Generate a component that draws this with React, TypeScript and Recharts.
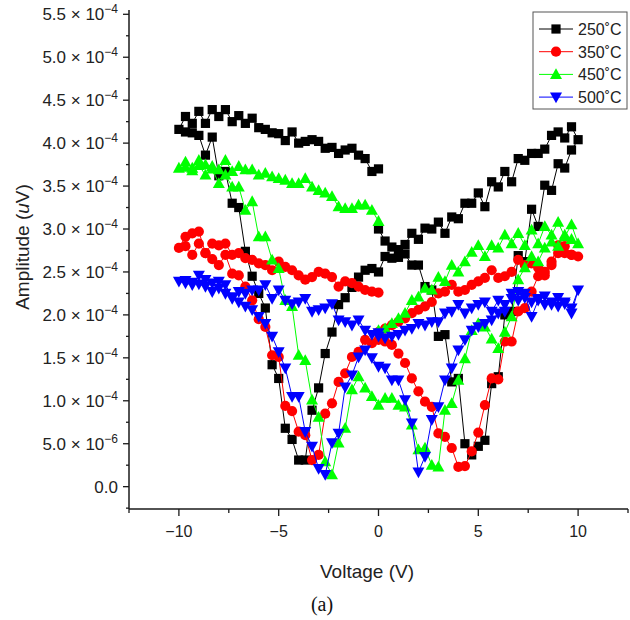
import React from 'react';
import { ScatterChart, Scatter, XAxis, YAxis } from 'recharts';

// Voltage sweep grid (V), magnitude; loops go 0 -> -10 -> 0 -> +10 -> 0
const voltGrid = [0, 0.33, 0.67, 1, 1.33, 1.67, 2, 2.33, 2.67, 3, 3.33, 3.67, 4, 4.33, 4.67, 5, 5.33, 5.67, 6, 6.33, 6.67, 7, 7.33, 7.67, 8, 8.33, 8.67, 9, 9.33, 9.67, 10];

// Amplitudes in units of 1e-4 uV, indexed by |V| on voltGrid
// 250 °C
const black_leftTop = [3.70, 3.67, 3.82, 3.86, 3.94, 3.92, 3.88, 3.95, 3.94, 4.02, 4.04, 4.02, 4.00, 4.13, 4.03, 4.11, 4.12, 4.16, 4.18, 4.29, 4.23, 4.32, 4.25, 4.39, 4.31, 4.39, 4.23, 4.37, 4.23, 4.31, 4.16];
const black_leftDip = [2.50, 2.54, 2.52, 2.44, 2.32, 2.20, 2.12, 1.80, 1.55, 1.15, 0.89, 0.31, 0.31, 0.55, 0.68, 1.26, 1.42, 2.08, 2.25, 2.45, 2.74, 3.25, 3.30, 3.67, 3.62, 4.07, 3.86, 4.09, 4.12, 4.13, 4.16];
const black_rightDip = [2.50, 2.68, 2.66, 2.67, 2.71, 2.58, 2.58, 2.33, 2.29, 1.75, 1.77, 1.22, 1.26, 0.50, 0.37, 0.47, 0.54, 1.20, 1.28, 2.00, 2.04, 2.69, 2.62, 3.23, 3.03, 3.51, 3.45, 3.76, 3.71, 3.92, 4.04];
const black_rightTop = [3.00, 2.86, 2.79, 2.76, 2.82, 2.95, 2.88, 3.01, 3.00, 3.08, 2.95, 3.14, 3.12, 3.30, 3.30, 3.42, 3.26, 3.55, 3.49, 3.67, 3.55, 3.82, 3.80, 3.88, 3.88, 3.93, 4.09, 4.13, 4.06, 4.19, 4.04];

// 350 °C
const red_leftTop = [2.26, 2.27, 2.29, 2.33, 2.37, 2.39, 2.33, 2.44, 2.48, 2.50, 2.44, 2.41, 2.46, 2.52, 2.56, 2.62, 2.52, 2.58, 2.60, 2.64, 2.66, 2.72, 2.70, 2.83, 2.81, 2.83, 2.72, 2.97, 2.95, 2.91, 2.78];
const red_leftDip = [1.71, 1.67, 1.71, 1.57, 1.51, 1.32, 1.22, 0.97, 0.85, 0.37, 0.31, 0.60, 0.64, 0.88, 0.94, 1.51, 1.53, 1.86, 1.95, 2.17, 2.33, 2.46, 2.48, 2.70, 2.58, 2.65, 2.72, 2.83, 2.70, 2.80, 2.78];
const red_rightDip = [1.71, 1.69, 1.65, 1.55, 1.44, 1.26, 1.11, 0.99, 0.93, 0.62, 0.58, 0.45, 0.23, 0.24, 0.41, 0.63, 0.95, 1.26, 1.25, 1.69, 1.69, 2.04, 2.08, 2.27, 2.45, 2.46, 2.58, 2.72, 2.72, 2.70, 2.68];
const red_rightTop = [1.80, 1.84, 1.88, 1.92, 1.96, 2.02, 2.06, 2.10, 2.15, 2.25, 2.27, 2.35, 2.27, 2.29, 2.35, 2.39, 2.43, 2.52, 2.43, 2.45, 2.50, 2.64, 2.58, 2.60, 2.55, 2.50, 2.62, 2.81, 2.80, 2.70, 2.68];

// 450 °C
const green_leftTop = [3.09, 3.22, 3.28, 3.28, 3.24, 3.24, 3.26, 3.38, 3.42, 3.45, 3.49, 3.59, 3.53, 3.53, 3.57, 3.59, 3.61, 3.65, 3.63, 3.69, 3.69, 3.73, 3.67, 3.80, 3.69, 3.73, 3.75, 3.80, 3.71, 3.78, 3.71];
const green_leftDip = [0.95, 1.05, 1.15, 1.28, 1.13, 0.68, 0.51, 0.14, 0.29, 0.81, 1.01, 1.47, 1.53, 2.10, 2.17, 2.54, 2.64, 2.91, 2.91, 3.32, 3.22, 3.49, 3.49, 3.63, 3.53, 3.70, 3.63, 3.74, 3.68, 3.72, 3.71];
const green_rightDip = [0.95, 1.03, 1.03, 0.95, 0.93, 0.72, 0.43, 0.45, 0.25, 0.23, 0.89, 0.97, 1.24, 1.49, 1.82, 1.90, 1.86, 1.72, 1.61, 1.80, 1.98, 2.41, 2.55, 2.68, 2.62, 2.78, 2.85, 2.80, 2.93, 2.88, 2.83];
const green_rightTop = [1.82, 1.84, 1.90, 1.96, 2.02, 2.17, 2.21, 2.31, 2.29, 2.44, 2.39, 2.58, 2.50, 2.62, 2.73, 2.81, 2.68, 2.81, 2.78, 2.93, 2.83, 2.95, 2.81, 2.99, 2.83, 3.03, 2.93, 3.08, 2.91, 3.05, 2.83];

// 500 °C
const blue_leftTop = [1.79, 1.77, 1.82, 1.94, 1.88, 1.92, 1.94, 2.13, 2.08, 2.06, 2.04, 2.19, 2.15, 2.13, 2.17, 2.29, 2.19, 2.35, 2.29, 2.29, 2.25, 2.27, 2.21, 2.35, 2.39, 2.37, 2.41, 2.46, 2.35, 2.37, 2.39];
const blue_leftDip = [1.40, 1.50, 1.59, 1.51, 1.30, 1.16, 0.62, 0.51, 0.14, 0.21, 0.47, 0.64, 1.05, 1.05, 1.38, 1.57, 1.75, 1.90, 1.98, 2.06, 2.10, 2.15, 2.19, 2.25, 2.31, 2.27, 2.33, 2.36, 2.38, 2.40, 2.39];
const blue_rightDip = [1.40, 1.38, 1.24, 1.24, 1.01, 0.74, 0.17, 0.35, 0.78, 0.93, 1.24, 1.38, 1.59, 1.71, 1.82, 1.86, 1.90, 1.94, 2.02, 2.04, 2.25, 2.27, 2.20, 2.15, 2.19, 2.22, 2.12, 2.20, 2.15, 2.08, 2.29];
const blue_rightTop = [1.75, 1.73, 1.75, 1.77, 1.82, 1.84, 1.90, 1.88, 1.92, 1.92, 2.02, 2.04, 2.12, 2.02, 2.08, 2.12, 2.15, 2.04, 2.17, 2.12, 2.19, 2.17, 2.25, 1.98, 2.17, 2.12, 2.15, 2.10, 2.13, 2.02, 2.29];

const seriesNames = ['250\u02DAC', '350\u02DAC', '450\u02DAC', '500\u02DAC'];
const seriesColors = ['#000000', '#ff0000', '#00ff00', '#0000ff'];

// Axis ticks
const xTicks = [-12.5, -10, -7.5, -5, -2.5, 0, 2.5, 5, 7.5, 10, 12.5];
const xMajorTicks = [-10, -5, 0, 5, 10];
const xTickLabels = ['\u221210', '\u22125', '0', '5', '10'];
const yTicks = [-0.25, 0, 0.25, 0.5, 0.75, 1, 1.25, 1.5, 1.75, 2, 2.25, 2.5, 2.75, 3, 3.25, 3.5, 3.75, 4, 4.25, 4.5, 4.75, 5, 5.25, 5.5];
const yMajorTicks = [0, 0.5, 1, 1.5, 2, 2.5, 3, 3.5, 4, 4.5, 5, 5.5];
const yTickMantissa = ['0.0', '5.0', '1.0', '1.5', '2.0', '2.5', '3.0', '3.5', '4.0', '4.5', '5.0', '5.5'];
const yTickExponent = ['', '\u22126', '\u22124', '\u22124', '\u22124', '\u22124', '\u22124', '\u22124', '\u22124', '\u22124', '\u22124', '\u22124'];

const FONT = '"Liberation Sans", Arial, Helvetica, sans-serif';
const AXIS = '#1a1a1a';

type Pt = { v: number; a: number };

function buildLoop(lt: number[], ld: number[], rd: number[], rt: number[]): Pt[] {
  const pts: Pt[] = [];
  for (let i = 0; i < voltGrid.length; i++) pts.push({ v: -voltGrid[i], a: lt[i] });
  for (let i = voltGrid.length - 2; i >= 0; i--) pts.push({ v: -voltGrid[i], a: ld[i] });
  for (let i = 1; i < voltGrid.length; i++) pts.push({ v: voltGrid[i], a: rd[i] });
  for (let i = voltGrid.length - 2; i >= 0; i--) pts.push({ v: voltGrid[i], a: rt[i] });
  return pts;
}

const loops = [
  buildLoop(black_leftTop, black_leftDip, black_rightDip, black_rightTop),
  buildLoop(red_leftTop, red_leftDip, red_rightDip, red_rightTop),
  buildLoop(green_leftTop, green_leftDip, green_rightDip, green_rightTop),
  buildLoop(blue_leftTop, blue_leftDip, blue_rightDip, blue_rightTop),
];

function Marker({ kind, cx, cy, color }: { kind: number; cx: number; cy: number; color: string }) {
  if (kind === 0) return <rect x={cx - 4.6} y={cy - 4.6} width={9.2} height={9.2} fill={color} />;
  if (kind === 1) return <circle cx={cx} cy={cy} r={5.1} fill={color} />;
  if (kind === 2)
    return <polygon points={`${cx},${cy - 6.2} ${cx - 6},${cy + 4.6} ${cx + 6},${cy + 4.6}`} fill={color} />;
  return <polygon points={`${cx - 6},${cy - 4.6} ${cx + 6},${cy - 4.6} ${cx},${cy + 6.2}`} fill={color} />;
}

const XTick = (props: any) => {
  const { x, y, payload } = props;
  const idx = xMajorTicks.indexOf(payload.value);
  const major = idx >= 0;
  return (
    <g>
      <line x1={x} x2={x} y1={y} y2={y + (major ? 7 : 4)} stroke={AXIS} strokeWidth={1.3} />
      {major && (
        <text x={x} y={y + 28} textAnchor="middle" fontSize={16} fontFamily={FONT} fill="#222">
          {xTickLabels[idx]}
        </text>
      )}
    </g>
  );
};

const YTick = (props: any) => {
  const { x, y, payload } = props;
  const idx = yMajorTicks.indexOf(payload.value);
  const major = idx >= 0;
  return (
    <g>
      <line x1={x - (major ? 6 : 3)} x2={x} y1={y} y2={y} stroke={AXIS} strokeWidth={1.3} />
      {major && (
        <text x={x - 11} y={y + 6} textAnchor="end" fontSize={17} fontFamily={FONT} fill="#222">
          {yTickExponent[idx] === '' ? (
            yTickMantissa[idx]
          ) : (
            <>
              <tspan>{yTickMantissa[idx] + ' \u00D7 10'}</tspan>
              <tspan dy={-7} fontSize={12}>{yTickExponent[idx]}</tspan>
            </>
          )}
        </text>
      )}
    </g>
  );
};

export default function App() {
  return (
    <div style={{ position: 'absolute', left: 0, top: 0, width: 630, height: 620, background: '#fff' }}>
      <ScatterChart width={630} height={620} margin={{ top: 10, right: 2, left: 0, bottom: 0 }}>
        <XAxis
          type="number"
          dataKey="v"
          domain={[-12.5, 12.5]}
          ticks={xTicks}
          interval={0}
          allowDataOverflow
          height={111}
          tickSize={0}
          tickMargin={0}
          tickLine={false}
          tick={<XTick />}
          axisLine={{ stroke: AXIS, strokeWidth: 1.5 }}
        />
        <YAxis
          type="number"
          dataKey="a"
          domain={[-0.26, 5.55]}
          ticks={yTicks}
          interval={0}
          allowDataOverflow
          width={129}
          tickSize={0}
          tickMargin={0}
          tickLine={false}
          tick={<YTick />}
          axisLine={{ stroke: AXIS, strokeWidth: 1.5 }}
        />
        <XAxis
          xAxisId="top"
          orientation="top"
          type="number"
          domain={[-12.5, 12.5]}
          height={0}
          tick={false}
          tickLine={false}
          axisLine={{ stroke: AXIS, strokeWidth: 1.5 }}
        />
        <YAxis
          yAxisId="right"
          orientation="right"
          type="number"
          domain={[-0.26, 5.55]}
          width={0}
          tick={false}
          tickLine={false}
          axisLine={{ stroke: AXIS, strokeWidth: 1.5 }}
        />
        {loops.map((data, k) => (
          <Scatter
            key={seriesNames[k]}
            name={seriesNames[k]}
            data={data}
            fill={seriesColors[k]}
            line={{ stroke: seriesColors[k], strokeWidth: 1 }}
            lineType="joint"
            isAnimationActive={false}
            shape={(p: any) => <Marker kind={k} cx={p.cx} cy={p.cy} color={seriesColors[k]} />}
          />
        ))}
      </ScatterChart>
      <svg
        width={630}
        height={620}
        style={{ position: 'absolute', left: 0, top: 0, pointerEvents: 'none' }}
      >
        {/* Legend */}
        <rect x={533} y={12} width={94} height={97} fill="#fff" stroke="#555" strokeWidth={1} />
        {seriesNames.map((n, k) => {
          const cy = 29 + k * 22.7;
          return (
            <g key={n}>
              <line x1={539} x2={573} y1={cy} y2={cy} stroke={seriesColors[k]} strokeWidth={1} />
              <Marker kind={k} cx={556} cy={cy} color={seriesColors[k]} />
              <text x={578} y={cy + 6} fontSize={16} fontFamily={FONT} fill="#222">
                {n}
              </text>
            </g>
          );
        })}
        {/* Axis titles */}
        <text x={367} y={578} textAnchor="middle" fontSize={19} fontFamily={FONT} fill="#222">
          Voltage (V)
        </text>
        <text
          transform="translate(29,247) rotate(-90)"
          textAnchor="middle"
          fontSize={19}
          fontFamily={FONT}
          fill="#222"
        >
          Amplitude (<tspan fontStyle="italic">u</tspan>V)
        </text>
        <text x={322} y={611} textAnchor="middle" fontSize={20} fontFamily='"Liberation Serif", "Times New Roman", serif' fill="#111">
          (a)
        </text>
      </svg>
    </div>
  );
}
